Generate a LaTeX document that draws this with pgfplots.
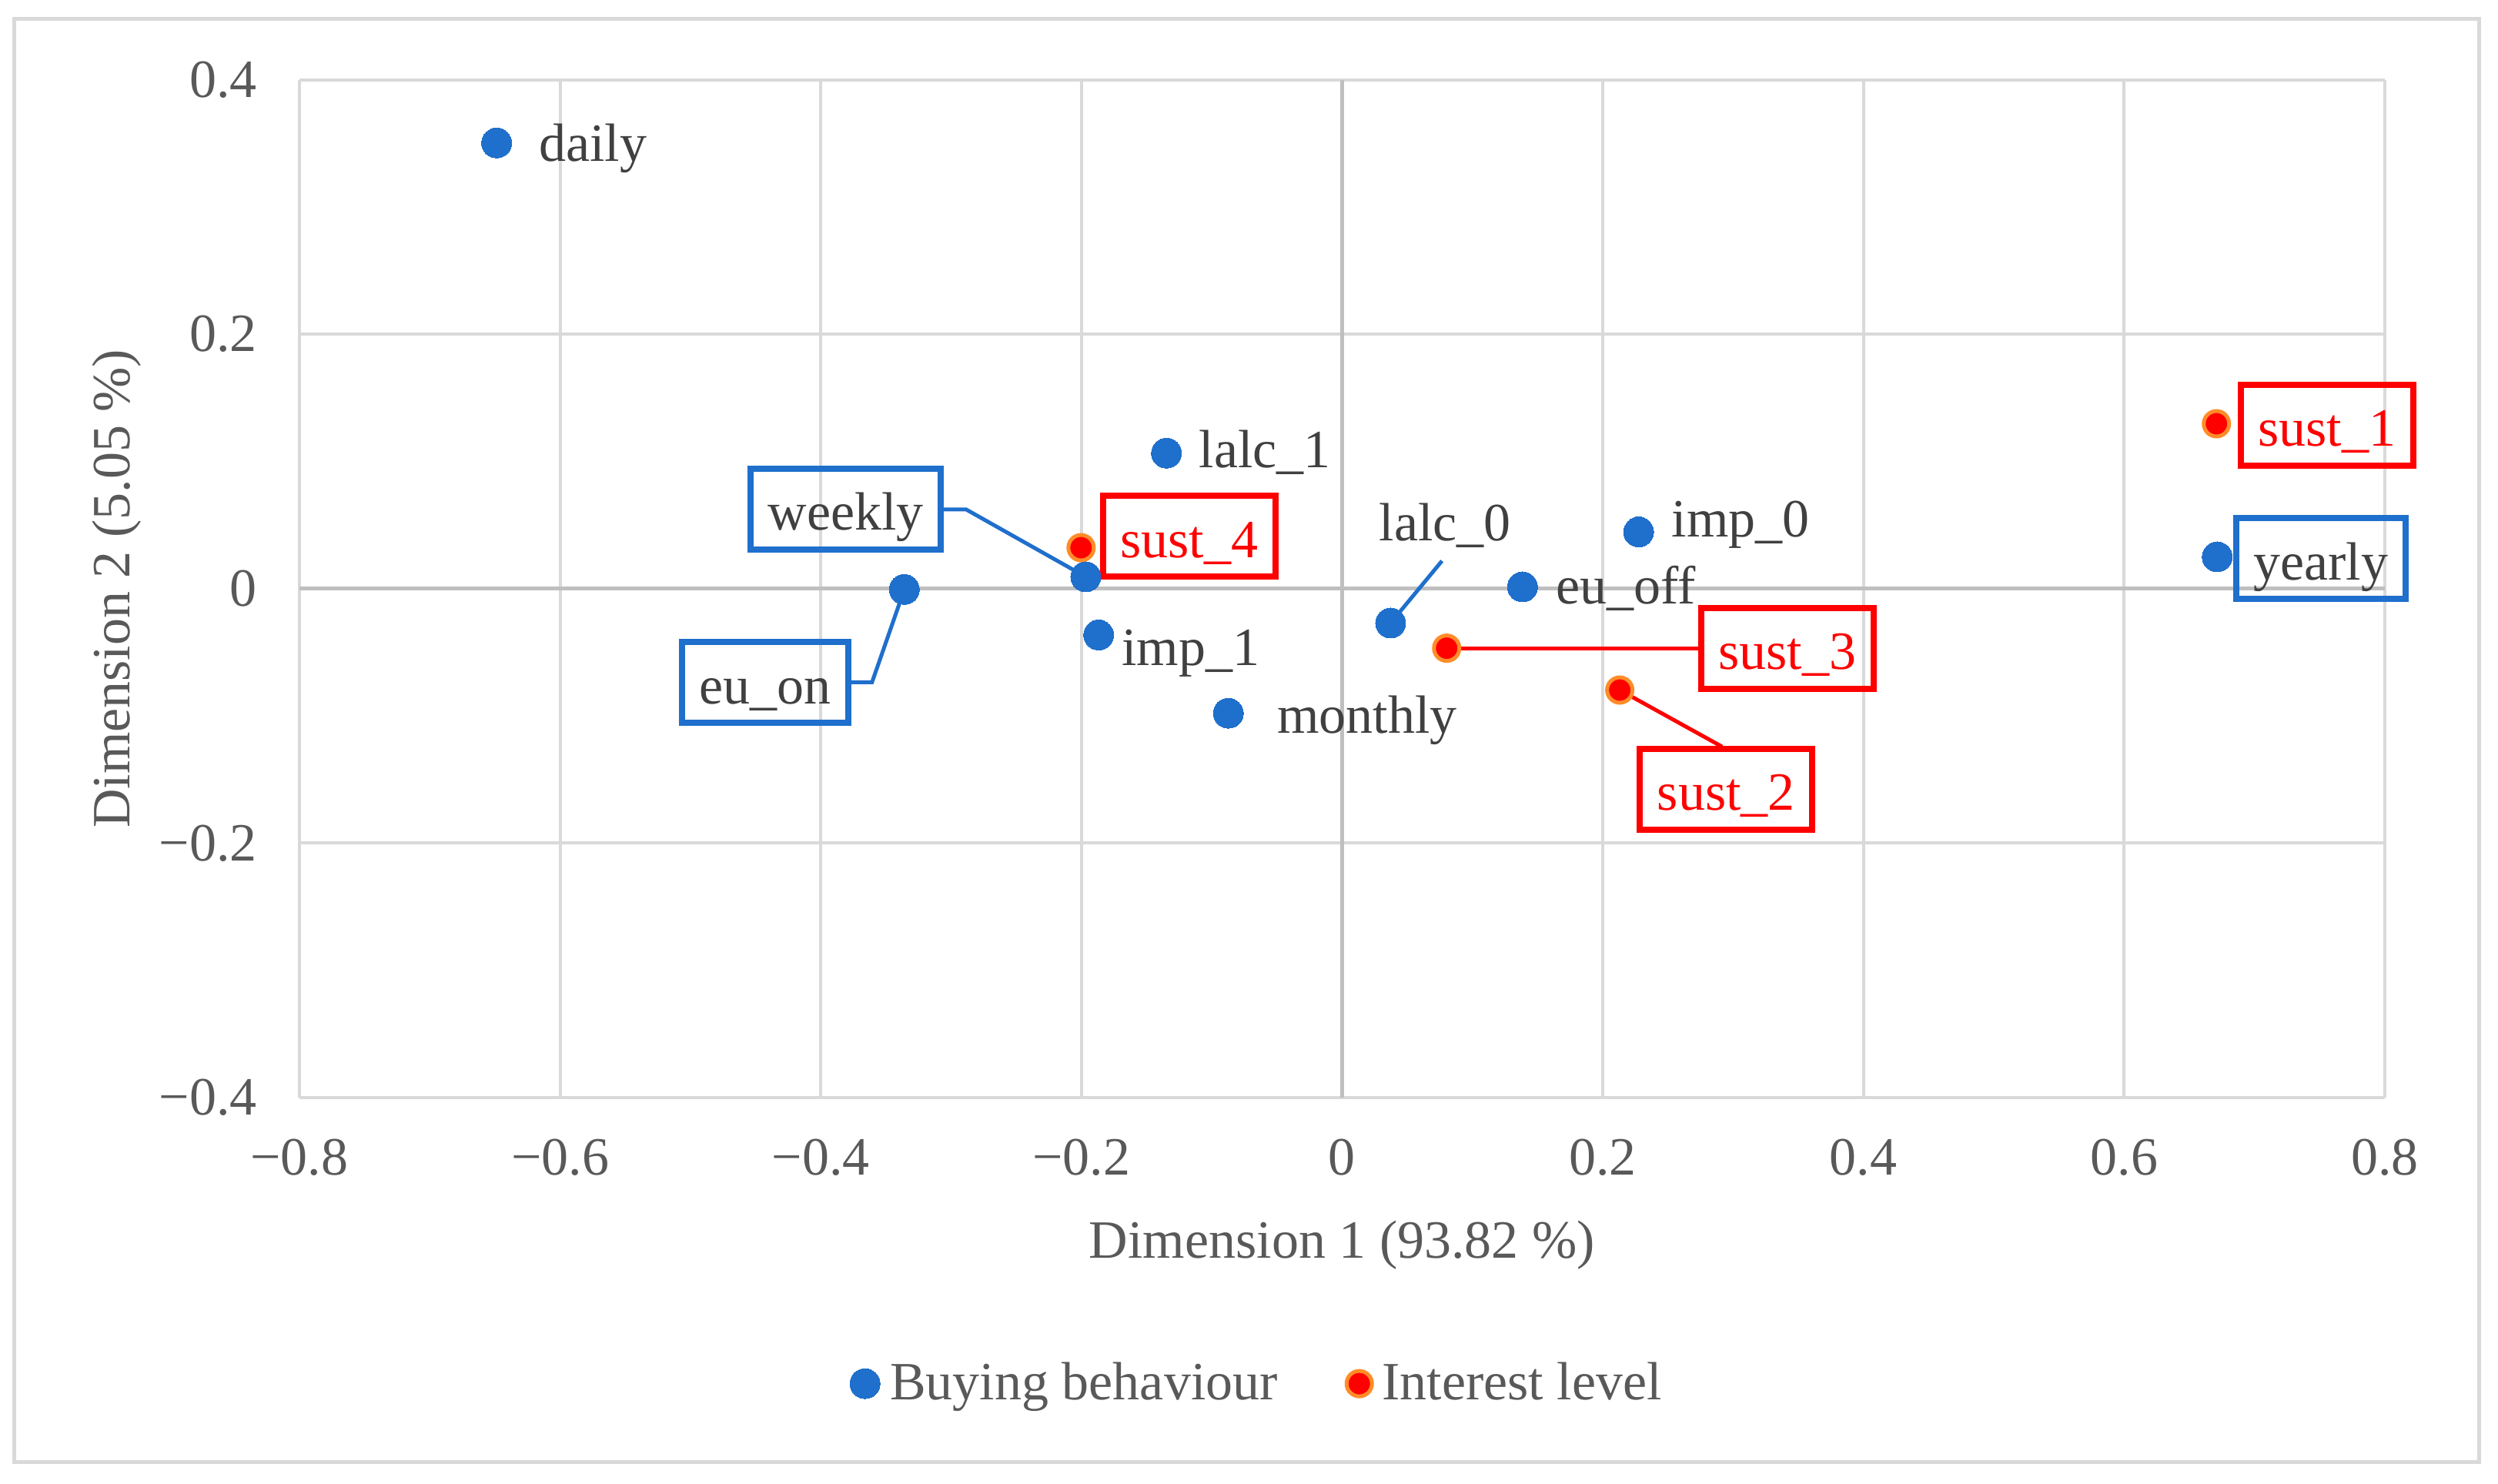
\documentclass[border=0pt]{standalone}
\usepackage{fontspec}
\setmainfont{Liberation Serif}
\usepackage{pgfplots}
\pgfplotsset{compat=1.18}
\definecolor{cblue}{RGB}{31,111,204}
\definecolor{cred}{RGB}{255,0,0}
\definecolor{corange}{RGB}{255,140,40}
\definecolor{cgrid}{RGB}{217,217,217}
\definecolor{czero}{RGB}{191,191,191}
\definecolor{ctick}{RGB}{89,89,89}
\definecolor{clab}{RGB}{64,64,64}
\newcommand{\fs}{\fontsize{14}{16.8}\selectfont}
\tikzset{
  lab/.style={anchor=base west, inner sep=0pt, font=\fs, text=clab},
  bx/.style={draw=cblue, line width=1.6pt, inner xsep=4.5pt, inner ysep=0pt, minimum height=21pt,
    text height=11pt, text depth=0pt, font=\fs, text=clab, anchor=center},
  rbx/.style={bx, draw=cred, text=cred},
}
\begin{document}
\begin{tikzpicture}
\path[use as bounding box] (-77.8pt,-100.4pt) rectangle (571.2pt,285.2pt);
\draw[cgrid, line width=1pt] (-74.1pt,-94.8pt) rectangle (566.2pt,280.2pt);
\begin{axis}[
  at={(0,0)}, anchor=south west,
  scale only axis, width=541.8pt, height=264.5pt,
  xmin=-0.8, xmax=0.8, ymin=-0.4, ymax=0.4,
  clip=false,
  axis line style={draw=none},
  major tick length=0pt,
  xtick={-0.8,-0.6,-0.4,-0.2,0,0.2,0.4,0.6,0.8},
  xticklabels={−0.8,−0.6,−0.4,−0.2,0,0.2,0.4,0.6,0.8},
  ytick={-0.4,-0.2,0,0.2,0.4},
  yticklabels={−0.4,−0.2,0,0.2,0.4},
  grid=major, grid style={cgrid, line width=0.8pt},
  extra x ticks={0}, extra y ticks={0}, extra x tick labels={}, extra y tick labels={},
  extra tick style={grid style={czero, line width=1pt}},
  tick label style={font=\fs, text=ctick},
  xticklabel style={yshift=-7.3pt},
  yticklabel style={xshift=-7.5pt},
  xlabel={Dimension 1 (93.82 \%)},
  ylabel={Dimension 2 (5.05 \%)},
  label style={font=\fs, text=ctick},
  xlabel style={at={(axis description cs:0.5,0)}, anchor=base, yshift=-41.6pt},
  ylabel style={at={([xshift=-44pt]axis description cs:0,0.5)}, anchor=base},
  legend style={at={(axis description cs:0.4605,-0.281)}, anchor=center, draw=none, fill=none,
    font=\fs, text=ctick, legend columns=2,
    /tikz/every even column/.append style={column sep=15.9pt},
    /tikz/every odd column/.append style={column sep=0.6pt}},
  legend cell align=left,
  legend image code/.code={\draw[#1] plot coordinates {(0pt,0pt)};},
]
% leader lines
\draw[cblue, line width=1pt] (axis cs:-0.3062,0.0623) -- (axis cs:-0.2886,0.0623) -- (axis cs:-0.1967,0.0093);
\draw[cblue, line width=1pt] (axis cs:-0.3775,-0.0736) -- (axis cs:-0.3607,-0.0736) -- (axis cs:-0.3359,-0.0006);
\draw[cblue, line width=1pt] (axis cs:0.0766,0.0218) -- (axis cs:0.0372,-0.0270);
\draw[cred, line width=1pt] (axis cs:0.0802,-0.0468) -- (axis cs:0.2751,-0.0468);
\draw[cred, line width=1pt] (axis cs:0.2130,-0.0797) -- (axis cs:0.2915,-0.1242);

\addplot[only marks, mark=*, mark size=3.9pt, mark options={fill=cblue, draw=cblue, line width=0pt}]
  coordinates {(-0.6487,0.3503) (-0.1348,0.1065) (-0.1967,0.0093) (-0.3359,-0.0006) (-0.1868,-0.0364)
  (-0.0873,-0.0979) (0.0372,-0.0270) (0.1384,0.0014) (0.2275,0.0446) (0.6714,0.0250)};
\addlegendentry{Buying behaviour}
\addplot[only marks, mark=*, mark size=3.3pt, mark options={fill=cred, draw=corange, line width=1pt}]
  coordinates {(0.6708,0.1296) (0.2130,-0.0797) (0.0802,-0.0468) (-0.2003,0.0322)};
\addlegendentry{Interest level}
\addplot[forget plot, only marks, mark=*, mark size=3.9pt, mark options={fill=cblue, draw=cblue, line width=0pt}]
  coordinates {(-0.1967,0.0093)};

% plain labels
\node[lab] at (axis cs:-0.6167,0.3361) {daily};
\node[lab] at (axis cs:-0.1102,0.0950) {lalc\_1};
\node[lab] at (axis cs:0.0279,0.0376) {lalc\_0};
\node[lab] at (axis cs:0.2524,0.0404) {imp\_0};
\node[lab] at (axis cs:0.1634,-0.0121) {eu\_off};
\node[lab] at (axis cs:-0.1695,-0.0603) {imp\_1};
\node[lab] at (axis cs:-0.0502,-0.1134) {monthly};
% boxed labels
\node[bx] at (axis cs:-0.3809,0.0626) {weekly};
\node[bx] at (axis cs:-0.4425,-0.0737) {eu\_on};
\node[bx] at (axis cs:0.7509,0.0237) {yearly};
\node[rbx] at (axis cs:-0.1173,0.0412) {sust\_4};
\node[rbx] at (axis cs:0.3415,-0.0469) {sust\_3};
\node[rbx] at (axis cs:0.2946,-0.1576) {sust\_2};
\node[rbx] at (axis cs:0.7555,0.1285) {sust\_1};
\end{axis}
\end{tikzpicture}
\end{document}
